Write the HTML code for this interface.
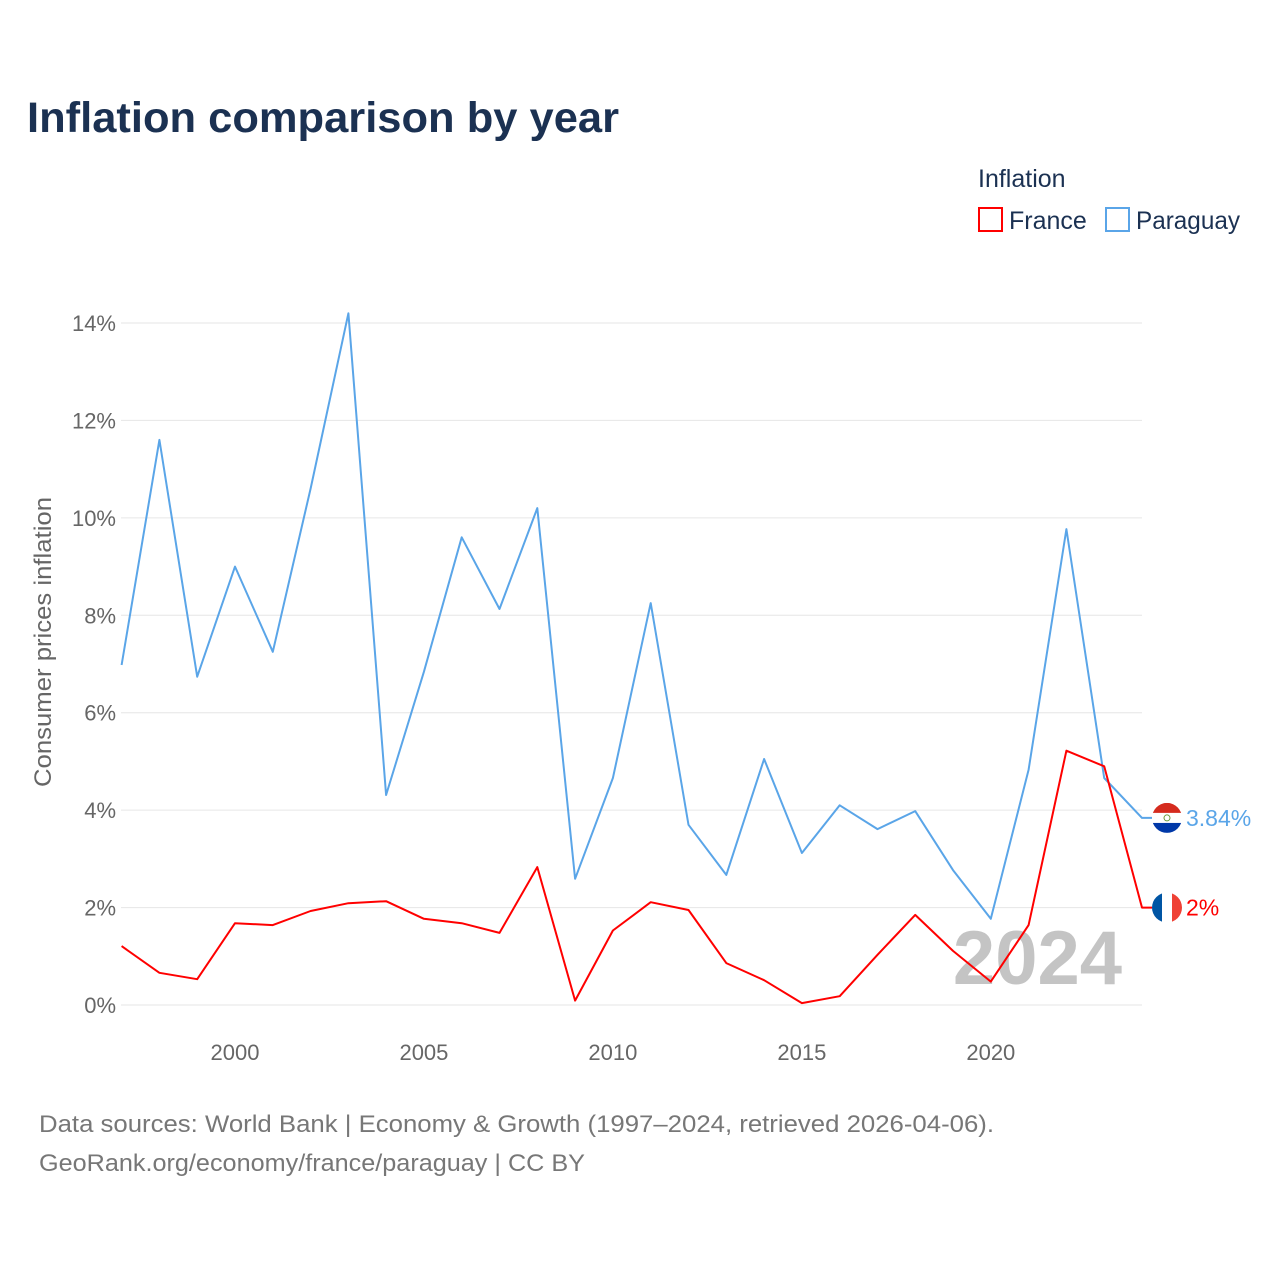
<!DOCTYPE html>
<html><head><meta charset="utf-8">
<style>
html,body{margin:0;padding:0;background:#fff;}
body{width:1280px;height:1280px;position:relative;font-family:"Liberation Sans",sans-serif;overflow:hidden;}
</style></head>
<body>
<svg id="chart" width="1280" height="1280" xmlns="http://www.w3.org/2000/svg" style="position:absolute;left:0;top:0">
<text x="27" y="132" font-size="43" font-weight="bold" fill="#1b3152" textLength="592" lengthAdjust="spacingAndGlyphs">Inflation comparison by year</text>
<text x="978" y="187" font-size="25" fill="#1b3152">Inflation</text>
<g>
<rect x="979" y="208" width="23" height="23" fill="none" stroke="#ff0000" stroke-width="2"/>
<text x="1009" y="229" font-size="25" fill="#1b3152">France</text></g>
<g>
<rect x="1106" y="208" width="23" height="23" fill="none" stroke="#5aa5e8" stroke-width="2"/>
<text x="1136" y="229" font-size="25" fill="#1b3152" textLength="104" lengthAdjust="spacingAndGlyphs">Paraguay</text></g>
<text transform="translate(51,642) rotate(-90)" text-anchor="middle" font-size="24" fill="#666" textLength="290" lengthAdjust="spacingAndGlyphs">Consumer prices inflation</text>
<text x="1122" y="984" text-anchor="end" font-size="76" font-weight="bold" fill="#c4c4c4">2024</text>
<g id="grid"></g><g id="xt"></g><g id="series"></g>
<text x="39" y="1132" font-size="24" fill="#777" textLength="955" lengthAdjust="spacingAndGlyphs">Data sources: World Bank | Economy &amp; Growth (1997–2024, retrieved 2026-04-06).</text>
<text x="39" y="1171" font-size="24" fill="#777" textLength="546" lengthAdjust="spacingAndGlyphs">GeoRank.org/economy/france/paraguay | CC BY</text>
</svg>
<script>
const years=[1997,1998,1999,2000,2001,2002,2003,2004,2005,2006,2007,2008,2009,2010,2011,2012,2013,2014,2015,2016,2017,2018,2019,2020,2021,2022,2023,2024];
const paraguay=[6.98,11.6,6.74,9.0,7.25,10.6,14.2,4.31,6.84,9.6,8.13,10.2,2.59,4.66,8.25,3.7,2.67,5.05,3.12,4.1,3.61,3.98,2.77,1.77,4.83,9.77,4.66,3.84];
const france=[1.21,0.66,0.53,1.68,1.64,1.93,2.09,2.13,1.77,1.68,1.48,2.83,0.09,1.53,2.11,1.95,0.86,0.51,0.04,0.18,1.03,1.85,1.11,0.48,1.64,5.22,4.9,2.0];
const yTicks=[0,2,4,6,8,10,12,14];
const xTicks=[2000,2005,2010,2015,2020];
const NS="http://www.w3.org/2000/svg";
const X=y=>121.6+(y-1997)*(1142-121.6)/27;
const Y=v=>1005-v*(1005-323)/14;
function mk(t,a,p){const e=document.createElementNS(NS,t);for(const k in a)e.setAttribute(k,a[k]);p.appendChild(e);return e;}
const grid=document.getElementById('grid'),xt=document.getElementById('xt'),ser=document.getElementById('series');
yTicks.forEach(v=>{
 const l=mk('line',{x1:121,x2:1142,y1:Y(v),y2:Y(v),stroke:'#e6e6e6','stroke-width':1},grid);
 
 
 const t=mk('text',{x:116,y:Y(v)+8,'text-anchor':'end','font-size':22,fill:'#666'},grid);
 t.textContent=v+'%';
 
 
});
xTicks.forEach(v=>{
 const t=mk('text',{x:X(v),y:1060,'text-anchor':'middle','font-size':22,fill:'#666'},xt);
 t.textContent=v;
 
 
});
const defs=mk('defs',{},document.getElementById('chart'));
function line(vals,color,name,label){
 const last=vals[vals.length-1];
 const d=vals.map((v,i)=>(i?'L':'M')+X(years[i]).toFixed(1)+','+Y(v).toFixed(1)).join('')+'L1152,'+Y(last).toFixed(1);
 const p=mk('path',{d:d,fill:'none',stroke:color,'stroke-width':2,'stroke-linejoin':'round'},ser);
 
 
 const cx=1167,cy=Y(last);
 const cp=mk('clipPath',{id:'cp-'+name},defs);
 mk('circle',{cx:cx,cy:cy,r:15},cp);
 const g=mk('g',{'clip-path':'url(#cp-'+name+')'},ser);
 
 
 if(name==='france'){
  mk('rect',{x:cx-15,y:cy-15,width:10,height:30,fill:'#0055a4'},g);
  mk('rect',{x:cx-5,y:cy-15,width:10,height:30,fill:'#fff'},g);
  mk('rect',{x:cx+5,y:cy-15,width:10,height:30,fill:'#ef4135'},g);
 }else{
  mk('rect',{x:cx-15,y:cy-15,width:30,height:10,fill:'#d52b1e'},g);
  mk('rect',{x:cx-15,y:cy-5,width:30,height:10,fill:'#fff'},g);
  mk('rect',{x:cx-15,y:cy+5,width:30,height:10,fill:'#0038a8'},g);
  mk('circle',{cx:cx,cy:cy,r:3,fill:'none',stroke:'#6a9a3a','stroke-width':1},g);
 }
 const t=mk('text',{x:1186,y:cy+8,'font-size':23,fill:color},ser);
 t.textContent=label(last);
 
 
}
line(paraguay,'#5aa5e8','paraguay',v=>v.toFixed(2)+'%');
line(france,'#ff0000','france',v=>(+v.toFixed(2))+'%');
</script>
</body></html>
